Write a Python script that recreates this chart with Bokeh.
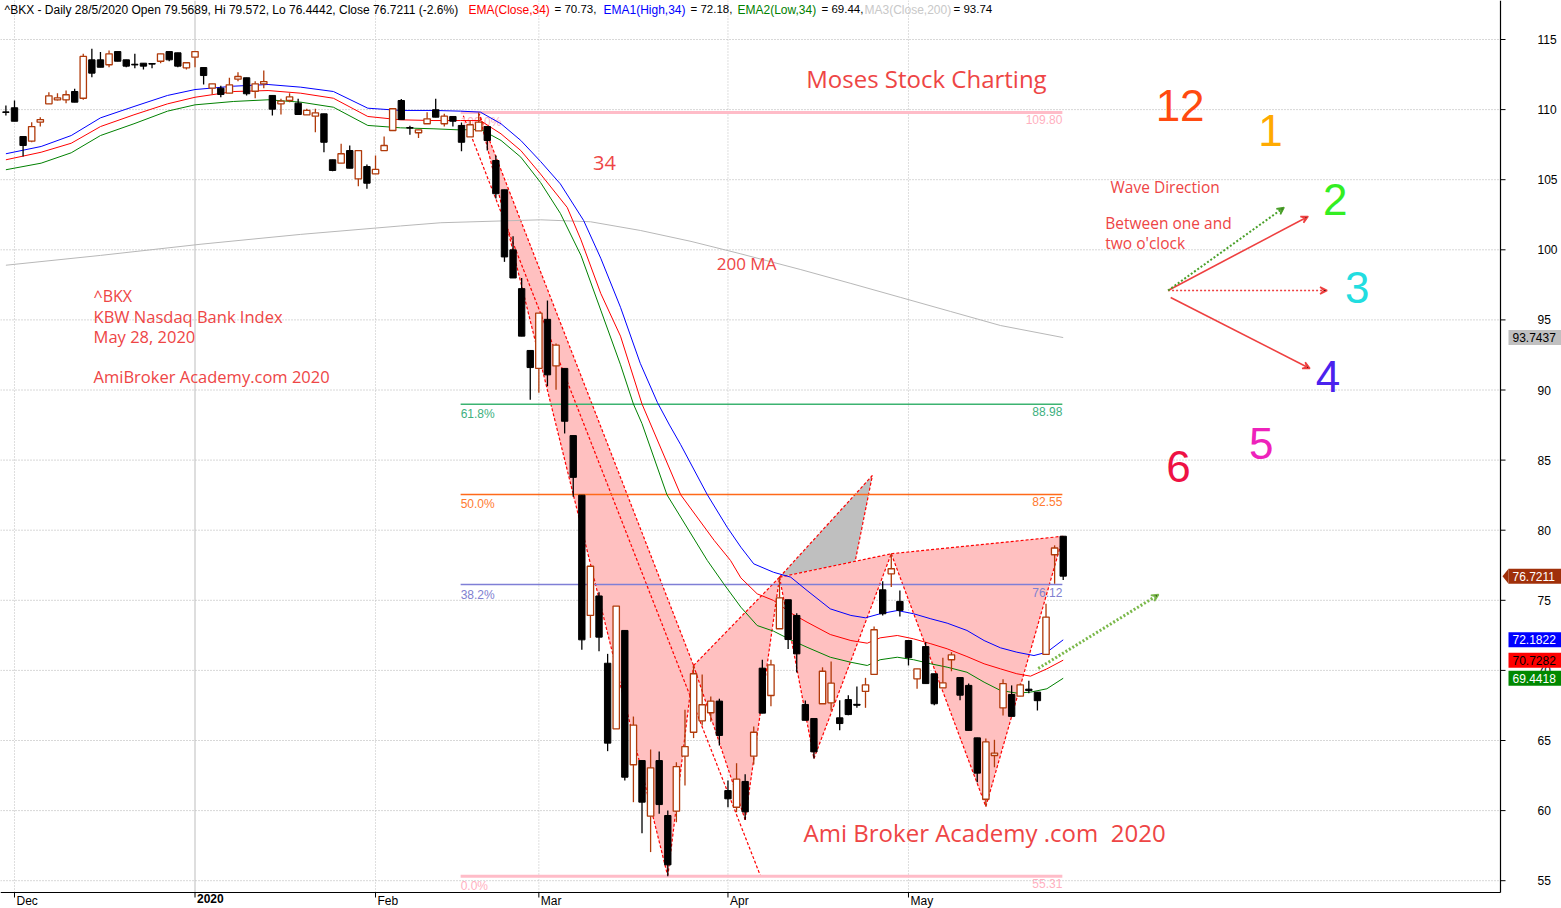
from bokeh.plotting import figure
from bokeh.models import ColumnDataSource, Range1d, Label, Arrow, VeeHead
from bokeh.core.properties import value
from bokeh.embed import file_html
from bokeh.resources import INLINE

# ---------------- data ----------------
bar_index = list(range(124))  # 29 Nov 2019 .. 28 May 2020 trading days
opens = [109.81, 110.13, 108.08, 107.75, 109.10, 110.41, 110.70, 110.70, 111.29, 110.81,
         113.55, 113.55, 113.20, 114.14, 113.55, 113.22, 113.31, 113.28, 113.45, 114.14,
         114.05, 112.98, 113.74, 113.00, 111.53, 111.53, 111.17, 112.17, 112.27, 111.31,
         111.84, 111.01, 110.41, 110.65, 110.46, 109.63, 109.53, 109.70, 106.42, 106.18,
         107.08, 105.06, 105.94, 105.42, 107.08, 108.51, 110.65, 108.72, 108.35, 108.99,
         109.99, 108.99, 109.51, 108.87, 108.05, 108.48, 108.79, 106.37, 104.28, 100.00,
         97.23, 92.82, 91.54, 95.04, 91.72, 91.54, 86.75, 82.50, 73.92, 75.31,
         70.51, 65.83, 72.85, 63.27, 63.57, 59.60, 63.57, 59.65, 59.96, 63.88,
         65.59, 66.40, 66.98, 67.81, 61.43, 60.24, 62.08, 63.88, 70.16, 68.21,
         72.97, 75.04, 73.92, 67.57, 66.57, 67.62, 67.69, 66.62, 67.92, 67.58,
         68.50, 69.71, 75.75, 76.89, 74.92, 72.13, 69.40, 71.70, 69.76, 68.76,
         70.76, 69.49, 68.93, 65.19, 60.81, 63.93, 67.33, 68.28, 68.16, 68.66,
         68.45, 71.14, 78.25, 79.57]
highs = [110.29, 110.65, 108.08, 109.10, 109.46, 111.24, 111.17, 111.36, 111.48, 113.98,
         114.34, 114.10, 114.22, 114.14, 113.55, 113.98, 113.31, 113.28, 113.98, 114.14,
         114.05, 113.34, 114.14, 113.00, 111.84, 111.70, 112.27, 112.67, 112.27, 112.03,
         112.79, 111.01, 110.77, 111.17, 110.77, 110.06, 110.06, 109.70, 106.42, 107.56,
         107.44, 107.08, 106.08, 106.73, 108.08, 110.06, 110.75, 108.84, 108.56, 109.81,
         110.77, 109.70, 109.51, 109.08, 109.22, 109.80, 108.79, 106.73, 104.28, 100.97,
         97.99, 92.82, 95.49, 96.38, 93.32, 91.54, 86.75, 82.50, 77.43, 75.58,
         71.18, 74.59, 72.85, 66.71, 63.57, 64.36, 64.21, 60.01, 63.45, 67.19,
         70.35, 69.70, 68.14, 67.98, 62.15, 63.38, 62.59, 66.00, 70.76, 70.76,
         76.65, 75.04, 74.08, 67.86, 66.57, 70.22, 70.64, 67.87, 68.23, 68.85,
         69.47, 73.13, 76.36, 78.32, 75.70, 72.13, 70.11, 72.01, 69.76, 70.90,
         71.30, 69.49, 69.06, 65.19, 65.14, 65.05, 69.37, 68.93, 69.06, 69.27,
         68.45, 74.75, 78.92, 79.57]
lows = [109.58, 109.17, 106.65, 107.68, 108.79, 110.41, 110.65, 110.46, 110.53, 110.70,
        112.31, 113.02, 113.02, 113.45, 113.02, 112.95, 112.86, 112.95, 113.31, 113.45,
        113.02, 112.86, 113.02, 111.79, 111.08, 110.88, 111.17, 112.03, 111.01, 110.81,
        111.53, 109.58, 109.65, 110.53, 109.65, 109.63, 108.39, 106.96, 105.60, 106.18,
        105.82, 104.54, 104.35, 105.42, 107.08, 108.51, 109.29, 108.20, 107.98, 108.99,
        109.46, 108.80, 108.80, 107.03, 108.05, 108.48, 107.08, 103.66, 99.14, 97.99,
        93.84, 89.30, 89.81, 90.27, 90.01, 86.90, 82.38, 71.47, 72.32, 71.37,
        64.24, 65.83, 62.15, 60.60, 58.39, 57.04, 59.77, 55.31, 59.17, 61.79,
        65.17, 66.07, 66.33, 64.64, 60.24, 59.89, 59.34, 63.29, 66.95, 67.45,
        72.97, 71.53, 69.85, 66.44, 63.71, 67.62, 67.14, 65.73, 66.80, 67.33,
        67.33, 69.71, 73.92, 75.94, 73.84, 70.35, 68.69, 69.06, 67.52, 68.76,
        69.94, 67.87, 65.72, 62.03, 60.29, 63.09, 66.79, 66.72, 68.16, 68.37,
        67.14, 71.14, 76.18, 76.44]
closes = [109.81, 109.17, 107.44, 108.79, 109.29, 110.98, 110.84, 111.06, 110.53, 113.79,
          112.60, 113.02, 113.98, 113.45, 113.10, 113.20, 113.10, 113.26, 113.98, 113.55,
          113.10, 113.34, 114.14, 112.43, 111.84, 111.08, 111.77, 112.36, 111.13, 111.84,
          112.00, 110.03, 110.60, 110.91, 109.65, 109.94, 109.77, 107.67, 105.66, 106.85,
          105.82, 107.08, 104.75, 105.73, 107.44, 110.06, 109.29, 108.70, 108.56, 109.34,
          109.46, 109.53, 109.17, 107.67, 108.92, 109.10, 107.80, 104.00, 99.49, 97.99,
          93.84, 91.60, 95.49, 91.08, 93.20, 87.77, 83.77, 72.18, 77.43, 72.37,
          64.81, 74.59, 62.38, 66.10, 60.60, 63.05, 60.43, 56.13, 63.14, 64.57,
          69.76, 67.55, 67.81, 65.36, 60.84, 62.25, 59.91, 65.59, 66.95, 70.40,
          75.18, 72.20, 71.18, 66.44, 64.19, 69.94, 69.09, 66.21, 66.85, 67.52,
          68.97, 72.90, 74.04, 77.25, 74.28, 70.91, 70.11, 69.06, 67.62, 69.11,
          71.11, 68.23, 65.72, 62.67, 64.90, 64.10, 69.06, 66.72, 68.97, 68.56,
          67.84, 73.80, 78.73, 76.72]

ema_high_idx = [0.0, 4.1, 7.6, 11.0, 14.9, 18.8, 22.0, 26.5, 30.5, 34.3, 38.1, 42.1, 45.9, 49.8,
                52.9, 55.2, 57.6, 59.9, 62.2, 64.5, 67.2, 69.2, 71.5, 73.8, 75.8, 77.2, 78.5,
                81.6, 83.9, 85.5, 87.0, 89.3, 91.3, 93.2, 95.9, 98.3, 100.0, 101.7, 103.7,
                105.6, 107.6, 109.5, 111.8, 113.8, 115.7, 117.6, 119.6, 121.1, 123.0]
ema_high_val = [106.85, 107.37, 108.15, 109.41, 110.22, 111.01, 111.43, 111.67, 111.79, 111.60,
                111.29, 110.10, 109.94, 109.94, 109.89, 109.82, 108.99, 107.80, 106.30, 104.70,
                102.10, 99.40, 95.90, 91.90, 89.10, 87.50, 86.10, 82.53, 80.22, 78.79, 77.60,
                77.00, 76.65, 75.70, 74.39, 73.92, 73.75, 74.04, 74.27, 74.04, 73.68, 73.37,
                72.85, 72.13, 71.61, 71.30, 71.06, 71.30, 72.18]
ema_close_idx = [0.0, 4.1, 7.6, 11.0, 14.9, 18.8, 22.0, 26.5, 30.5, 34.3, 38.1, 42.1, 45.9, 49.8,
                 52.9, 55.2, 57.6, 59.9, 62.2, 65.3, 66.9, 69.2, 71.5, 74.0, 78.5, 82.4, 84.3,
                 85.5, 87.4, 89.3, 91.3, 93.2, 95.9, 98.3, 100.2, 101.7, 103.7, 105.6, 107.6,
                 109.5, 111.8, 113.8, 115.7, 117.6, 119.2, 121.1, 123.0]
ema_close_val = [106.42, 106.96, 107.60, 108.79, 109.63, 110.41, 110.88, 111.29, 111.36, 111.17,
                 110.81, 109.51, 109.27, 109.22, 109.22, 109.22, 108.27, 107.08, 105.40, 103.02,
                 100.71, 96.89, 93.84, 89.00, 82.53, 79.27, 77.84, 76.60, 75.46, 74.99, 74.10,
                 73.44, 72.56, 72.13, 71.94, 72.32, 72.49, 72.25, 71.90, 71.54, 70.99, 70.47,
                 70.11, 69.76, 69.59, 70.11, 70.73]
ema_low_idx = [0.0, 4.1, 7.6, 11.0, 14.9, 18.8, 22.0, 26.5, 30.5, 34.3, 38.1, 42.1, 45.9, 49.8,
               52.9, 55.2, 57.6, 59.9, 62.2, 64.5, 66.9, 69.2, 71.5, 73.0, 74.0, 76.9, 81.6,
               83.5, 85.5, 87.4, 89.3, 91.3, 93.2, 95.9, 98.3, 100.2, 101.7, 103.7, 105.6,
               107.6, 109.5, 111.8, 113.8, 115.7, 117.6, 119.2, 121.1, 123.0]
ema_low_val = [105.71, 106.18, 106.92, 108.15, 108.99, 109.89, 110.34, 110.58, 110.70, 110.53,
               110.17, 108.87, 108.70, 108.63, 108.55, 108.60, 107.80, 106.61, 104.80, 102.60,
               99.60, 95.70, 91.80, 89.00, 87.60, 82.53, 77.84, 76.18, 74.51, 73.20, 72.80,
               72.18, 71.65, 70.94, 70.58, 70.35, 70.76, 70.94, 70.76, 70.47, 70.23, 69.87,
               69.16, 68.57, 68.38, 68.45, 68.69, 69.44]
ma200_idx = [0.0, 11.0, 22.7, 34.3, 45.9, 50.6, 62.2, 68.0, 73.8, 79.7, 85.5, 92.4, 98.3,
             104.1, 109.9, 115.7, 123.0]
ma200_val = [98.90, 99.60, 100.40, 101.10, 101.70, 101.93, 102.14, 102.00, 101.38, 100.60,
             99.71, 98.60, 97.60, 96.60, 95.60, 94.60, 93.74]

month_idx = [1, 22, 43, 62, 84, 105]
month_labels = ["Dec", "2020", "Feb", "Mar", "Apr", "May"]
price_ticks = [55, 60, 65, 70, 75, 80, 85, 90, 95, 100, 105, 110, 115]

fib_pct = ["100.0%", "61.8%", "50.0%", "38.2%", "0.0%"]
fib_val = [109.80, 88.98, 82.55, 76.12, 55.31]
fib_text = ["109.80", "88.98", "82.55", "76.12", "55.31"]
fib_span = [52.9, 122.9]

# harmonic pattern pivots X A B C D E F G H
pattern_idx = [55, 77, 80, 86, 90, 94, 103, 114, 123]
pattern_val = [109.80, 55.31, 70.35, 59.34, 76.65, 63.71, 78.32, 60.29, 79.57]
xc_line_idx = [53.0, 87.8]
xc_line_val = [109.90, 55.31]
gray_idx = [90, 100.8, 98.8]
gray_val = [76.65, 83.90, 77.78]

tag_values = ["93.7437", "76.7211", "72.1822", "70.7282", "69.4418"]
tag_levels = [93.7437, 76.7211, 72.1822, 70.7282, 69.4418]

# ---------------- geometry (pixels -> data) ----------------
W, H = 1561, 908
PX_PER_BAR, X0_PX = 8.596, 5.4
PX_PER_PT, Y115_PX = 14.02, 39.0
x_lo = -X0_PX / PX_PER_BAR
x_hi = (W - X0_PX) / PX_PER_BAR
y_hi = 115 + Y115_PX / PX_PER_PT
y_lo = 115 - (H - Y115_PX) / PX_PER_PT
AX_X = (1500 - X0_PX) / PX_PER_BAR           # right price axis
AX_Y = 115 - (892 - Y115_PX) / PX_PER_PT     # bottom time axis
dx = 1.0 / PX_PER_BAR                        # one pixel in x data units
dy = 1.0 / PX_PER_PT                         # one pixel in y data units

p = figure(width=W, height=H, output_backend="svg", toolbar_location=None,
           x_range=Range1d(x_lo, x_hi), y_range=Range1d(y_lo, y_hi),
           x_axis_location=None, y_axis_location=None, min_border=0,
           outline_line_color=None, background_fill_color="white",
           border_fill_color="white")
p.grid.visible = False

# grid
p.segment(x0=[x_lo] * len(price_ticks), y0=price_ticks, x1=[AX_X] * len(price_ticks),
          y1=price_ticks, line_color="#b0b0b0", line_dash="1 2", line_width=1)
for m, lab in zip(month_idx, month_labels):
    p.segment(x0=[m], y0=[AX_Y], x1=[m], y1=[y_hi], line_color="#bdbdbd", line_width=1,
              line_dash="solid" if lab == "2020" else "1 2")

# pattern patches
tris = [(0, 1, 2), (2, 3, 4), (4, 5, 6), (6, 7, 8)]
pxs = [[pattern_idx[a], pattern_idx[b], pattern_idx[c]] for a, b, c in tris]
pys = [[pattern_val[a], pattern_val[b], pattern_val[c]] for a, b, c in tris]
p.patches(pxs, pys, fill_color="#ffc0c0", line_color=None)
p.patch(gray_idx, gray_val, fill_color="#bfbfbf", line_color=None)

exs, eys = [], []
for a, b, c in tris:
    for u, v in ((a, b), (b, c), (a, c)):
        exs.append([pattern_idx[u], pattern_idx[v]])
        eys.append([pattern_val[u], pattern_val[v]])
exs.append(xc_line_idx)
eys.append(xc_line_val)
exs.append([pattern_idx[4], gray_idx[1], gray_idx[2]])
eys.append([pattern_val[4], gray_val[1], gray_val[2]])
p.multi_line(exs, eys, line_color="#ff0000", line_width=1.2, line_dash="3 2")

# fib levels
fib_colors = ["#ffbcc8", "#3cb371", "#ff6a1a", "#7f7fd6", "#ffbcc8"]
fib_widths = [3, 1.5, 1.5, 1.5, 3]
fib_src = ColumnDataSource(dict(x0=[fib_span[0]] * 5, x1=[fib_span[1]] * 5, y=fib_val,
                                c=fib_colors, w=fib_widths, pct=fib_pct, txt=fib_text,
                                tc=["#ffb0c0", "#40b080", "#ff7a30", "#8080d0", "#ffb0c0"]))
p.segment(x0="x0", y0="y", x1="x1", y1="y", line_color="c", line_width="w", source=fib_src)
p.text(x="x0", y="y", text="pct", text_color="tc", text_baseline="top", y_offset=3,
       text_font=value("Liberation Sans"), text_font_size="12px", source=fib_src)
p.text(x="x1", y="y", text="txt", text_color="tc", text_baseline="top", text_align="right",
       y_offset=3, text_font=value("Liberation Sans"), text_font_size="12px", source=fib_src)

# moving averages
p.line(ma200_idx, ma200_val, line_color="#b8b8b8", line_width=1)
p.line(ema_high_idx, ema_high_val, line_color="#0000ff", line_width=1)
p.line(ema_close_idx, ema_close_val, line_color="#ff0000", line_width=1)
p.line(ema_low_idx, ema_low_val, line_color="#008000", line_width=1)

# candles
UP = "#b03a0a"
up = dict(x=[], hi=[], lo=[], top=[], bot=[])
dn = dict(x=[], hi=[], lo=[], top=[], bot=[])
doji = dict(x0=[], x1=[], y=[])
for i, o, h, l, c in zip(bar_index, opens, highs, lows, closes):
    d = up if c > o else dn
    d["x"].append(i); d["hi"].append(h); d["lo"].append(l)
    d["top"].append(max(o, c)); d["bot"].append(min(o, c))
    if abs(c - o) < 0.08:
        doji["x0"].append(i - 0.38); doji["x1"].append(i + 0.38); doji["y"].append((o + c) / 2)
us, ds = ColumnDataSource(up), ColumnDataSource(dn)
p.segment(x0="x", y0="hi", x1="x", y1="lo", line_color=UP, line_width=1.3, source=us)
p.segment(x0="x", y0="hi", x1="x", y1="lo", line_color="black", line_width=1.3, source=ds)
p.vbar(x="x", width=0.74, top="top", bottom="bot", fill_color="white", line_color=UP,
       line_width=1.3, source=us)
p.vbar(x="x", width=0.74, top="top", bottom="bot", fill_color="black", line_color="black",
       source=ds)
p.segment(x0="x0", y0="y", x1="x1", y1="y", line_color="black", line_width=1.5,
          source=ColumnDataSource(doji))

# ---------------- axes drawn by hand ----------------
p.segment(x0=[AX_X], y0=[AX_Y], x1=[AX_X], y1=[y_hi], line_color="black", line_width=1.2)
p.segment(x0=[x_lo], y0=[AX_Y], x1=[AX_X], y1=[AX_Y], line_color="black", line_width=1.2)
p.segment(x0=[AX_X] * len(price_ticks), y0=price_ticks,
          x1=[AX_X + 5 * dx] * len(price_ticks), y1=price_ticks, line_color="black")
p.text(x=[AX_X + 37 * dx] * len(price_ticks), y=price_ticks, text=[str(t) for t in price_ticks],
       text_baseline="middle", text_font=value("Liberation Sans"), text_font_size="12px",
       text_color="black")
p.segment(x0=month_idx, y0=[AX_Y] * 6, x1=month_idx, y1=[AX_Y - 5 * dy] * 6,
          line_color="black")
p.text(x=[m + 2 * dx for m in month_idx], y=[AX_Y - 1 * dy] * 6, text=month_labels,
       text_baseline="top", text_font=value("Liberation Sans"), text_font_size="12px",
       text_font_style=["bold" if m == "2020" else "normal" for m in month_labels],
       text_color="black")

# last-value tags
tag_bg = ["#c0c0c0", "#a0300a", "#0000ff", "#ff0000", "#008800"]
tag_fg = ["black", "white", "white", "black", "white"]
half = 7.5 * dy
p.quad(left=[AX_X + 8 * dx] * 5, right=[x_hi] * 5, top=[v + half for v in tag_levels],
       bottom=[v - half for v in tag_levels], fill_color=tag_bg, line_color=None)
p.patch([AX_X + 2 * dx, AX_X + 8 * dx, AX_X + 8 * dx],
        [tag_levels[1], tag_levels[1] + half, tag_levels[1] - half],
        fill_color=tag_bg[1], line_color=None)
p.text(x=[AX_X + 12 * dx] * 5, y=tag_levels, text=tag_values, text_color=tag_fg,
       text_baseline="middle", text_font=value("Liberation Sans"), text_font_size="12px")

# ---------------- annotations ----------------
RED = "#ee4545"
HF = "Open Sans"
notes = [
    ("Moses Stock Charting", 93.1, 112.2, "24px"),
    ("34", 68.3, 106.2, "20px"),
    ("200 MA", 82.7, 99.0, "17px"),
    ("^BKX", 10.2, 96.74, "16px"),
    ("KBW Nasdaq Bank Index", 10.2, 95.24, "16.5px"),
    ("May 28, 2020", 10.2, 93.82, "16.5px"),
    ("AmiBroker Academy.com 2020", 10.2, 90.96, "16.5px"),
    ("Ami Broker Academy .com\u00a0\u00a02020", 92.8, 58.44, "24px"),
    ("Wave Direction", 128.5, 104.51, "15.5px"),
    ("Between one and", 127.9, 101.88, "15.5px"),
    ("two o'clock", 127.9, 100.45, "15.5px"),
]
for t, x, y, s in notes:
    p.add_layout(Label(x=x, y=y, text=t, text_color=RED, text_font=HF, text_font_size=s,
                       text_baseline="middle"))

clock = [("12", 136.6, 110.29, "#ff4a10"), ("1", 147.1, 108.5, "#ffaa00"),
         ("2", 154.65, 103.59, "#33ee22"), ("3", 157.2, 97.31, "#22dde0"),
         ("4", 153.8, 90.96, "#4a22ee"), ("5", 146.05, 86.18, "#ee22bb"),
         ("6", 136.4, 84.54, "#ee1144")]
for t, x, y, c in clock:
    p.add_layout(Label(x=x, y=y, text=t, text_color=c, text_font="Liberation Sans",
                       text_font_size="44px", text_align="center", text_baseline="middle"))

arrows = [
    (135.2, 97.1, 151.5, 102.38, "#ee4040", "solid", 1.6),
    (135.5, 96.6, 151.7, 91.53, "#ee4040", "solid", 1.6),
    (135.2, 97.1, 153.7, 97.1, "#ee4040", "2 2", 1.6),
    (135.2, 97.1, 148.7, 103.02, "#4aa02a", "2 2", 2),
    (120.1, 70.14, 134.1, 75.41, "#7ab84a", "2 2", 3),
]
for xs_, ys_, xe, ye, c, dash, w in arrows:
    p.add_layout(Arrow(end=VeeHead(size=7, line_color=c, line_width=1.5),
                       x_start=xs_, y_start=ys_, x_end=xe, y_end=ye,
                       line_color=c, line_dash=dash, line_width=w))

# title strip
title_parts = [
    ("^BKX - Daily 28/5/2020 Open 79.5689, Hi 79.572, Lo 76.4442, Close 76.7211 (-2.6%)", 4, "black", "12px"),
    ("EMA(Close,34)", 468, "#ff0000", "12px"), ("= 70.73,", 554, "black", "11.5px"),
    ("EMA1(High,34)", 603, "#0000ff", "12px"), ("= 72.18,", 690, "black", "11.5px"),
    ("EMA2(Low,34)", 737, "#008000", "12px"), ("= 69.44,", 821, "black", "11.5px"),
    ("MA3(Close,200)", 864, "#c8c8c8", "12px"), ("= 93.74", 953, "black", "11.5px"),
]
for t, x, c, s in title_parts:
    p.add_layout(Label(x=x, y=H - 2, x_units="screen", y_units="screen", text=t,
                       text_color=c, text_font="Liberation Sans", text_font_size=s,
                       text_baseline="top"))

open("out.html", "w").write(file_html(p, INLINE))
